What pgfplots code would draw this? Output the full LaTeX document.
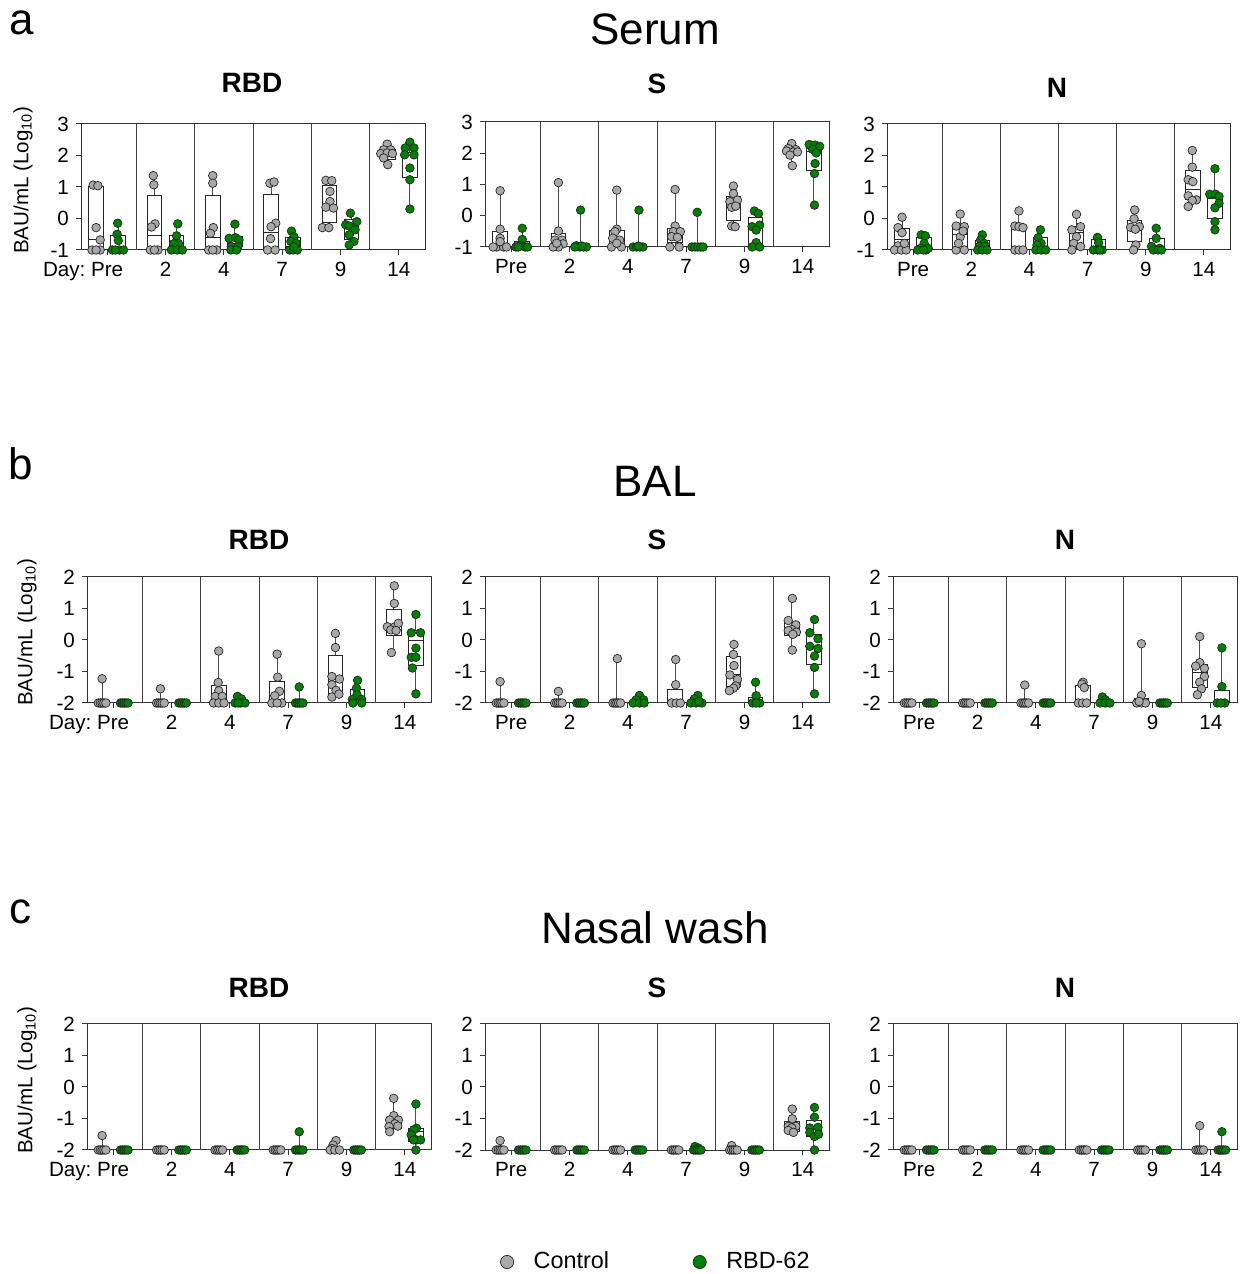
\documentclass[border=0pt]{standalone}
\usepackage{fontspec}
\setmainfont{Liberation Sans}
\usepackage{pgfplots}
\pgfplotsset{compat=1.18}
\usepgfplotslibrary{statistics}

\definecolor{ctrlgray}{RGB}{169,169,169}
\definecolor{rbdgreen}{RGB}{0,128,0}

\pgfplotsset{
  boxplot/every box/.style={draw=black!85, fill=white, line width=0.5pt},
  boxplot/every whisker/.style={draw=black!70, line width=0.5pt},
  boxplot/every median/.style={draw=black!85, line width=0.5pt},
  panel/.style={
    scale only axis, width=172pt, height=63pt, anchor=south west,
    xmin=-0.449, xmax=5.449, clip=false,
    axis line style={draw=black!80, line width=0.5pt},
    tick style={draw=black!80, line width=0.5pt},
    tick align=outside, tick pos=left, major tick length=2.5pt,
    xtick={0,1,2,3,4,5}, xticklabels={Pre,2,4,7,9,14},
    extra x ticks={0.5,1.5,2.5,3.5,4.5}, extra x tick labels={},
    extra x tick style={grid=major, major tick length=0pt,
      major grid style={draw=black!75, line width=0.5pt}},
    tick label style={font=\fontsize{10.3}{12}\selectfont},
  },
  rowA/.style={ymin=-1, ymax=3, ytick={-1,0,1,2,3}, yticklabels={-1,0,1,2,3}},
  rowB/.style={ymin=-2, ymax=2, ytick={-2,-1,0,1,2}, yticklabels={-2,-1,0,1,2}},
  ctrlmark/.style={only marks, mark=*, mark size=2.15pt,
    mark options={fill=ctrlgray, draw=black!85, line width=0.35pt},
    legend image post style={mark size=3.3pt}},
  rbdmark/.style={only marks, mark=*, mark size=2.15pt,
    mark options={fill=rbdgreen, draw=black!85, line width=0.35pt},
    legend image post style={mark size=3.3pt}},
  boxst/.style={forget plot, boxplot/draw direction=y,
    boxplot/box extend=0.25, boxplot/whisker extend=0},
}

% box: position, min, q1, median, q3, max
\newcommand{\bx}[6]{\addplot[boxst, boxplot prepared={draw position=#1,
  lower whisker=#2, lower quartile=#3, median=#4, upper quartile=#5, upper whisker=#6}] coordinates {};}

\begin{document}
\begin{tikzpicture}
\path[use as bounding box] (0,0) rectangle (619.5pt,637pt);

% ---- titles and labels
\node[font=\fontsize{22}{26}\selectfont] at (11pt,625.5pt) {a};
\node[font=\fontsize{22}{26}\selectfont] at (10.5pt,405pt) {b};
\node[font=\fontsize{22}{26}\selectfont] at (10.5pt,181pt) {c};
\node[font=\fontsize{22}{26}\selectfont] at (327.5pt,622.5pt) {Serum};
\node[font=\fontsize{22}{26}\selectfont] at (327.5pt,396.5pt) {BAL};
\node[font=\fontsize{22}{26}\selectfont] at (327.5pt,173pt) {Nasal wash};
\node[font=\bfseries\fontsize{14}{16}\selectfont] at (126pt,595.5pt) {RBD};
\node[font=\bfseries\fontsize{14}{16}\selectfont] at (328.5pt,595pt) {S};
\node[font=\bfseries\fontsize{14}{16}\selectfont] at (528.5pt,593pt) {N};
\node[font=\bfseries\fontsize{14}{16}\selectfont] at (129.5pt,367pt) {RBD};
\node[font=\bfseries\fontsize{14}{16}\selectfont] at (328.5pt,367pt) {S};
\node[font=\bfseries\fontsize{14}{16}\selectfont] at (532.5pt,367pt) {N};
\node[font=\bfseries\fontsize{14}{16}\selectfont] at (129.5pt,143pt) {RBD};
\node[font=\bfseries\fontsize{14}{16}\selectfont] at (328.5pt,143pt) {S};
\node[font=\bfseries\fontsize{14}{16}\selectfont] at (532.5pt,143pt) {N};
\node[rotate=90, font=\fontsize{10.3}{12}\selectfont] at (11.5pt,547pt) {BAU/mL (Log\textsubscript{10})};
\node[rotate=90, font=\fontsize{10.3}{12}\selectfont] at (13.5pt,321pt) {BAU/mL (Log\textsubscript{10})};
\node[rotate=90, font=\fontsize{10.3}{12}\selectfont] at (13.5pt,97pt) {BAU/mL (Log\textsubscript{10})};

% ================= Serum RBD
\begin{axis}[panel, rowA, at={(40.5pt,512pt)}, xticklabels={\llap{Day:\ }Pre,2,4,7,9,14}]
\bx{-0.19}{-1}{-1}{-0.68}{1.02}{1.06}
\bx{0.81}{-1}{-1}{-0.55}{0.74}{1.36}
\bx{1.81}{-1}{-1}{-0.61}{0.74}{1.36}
\bx{2.81}{-1}{-1}{-0.44}{0.77}{1.16}
\bx{3.81}{-0.29}{-0.12}{0.38}{1.04}{1.21}
\bx{4.81}{1.71}{1.86}{2.02}{2.18}{2.36}
\bx{0.19}{-1}{-1}{-1}{-0.55}{-0.15}
\bx{1.19}{-1}{-1}{-1}{-0.55}{-0.17}
\bx{2.19}{-1}{-0.88}{-0.70}{-0.57}{-0.18}
\bx{3.19}{-1}{-1}{-0.9}{-0.59}{-0.40}
\bx{4.19}{-0.84}{-0.68}{-0.31}{-0.02}{0.17}
\bx{5.19}{0.30}{1.31}{2.00}{2.08}{2.42}
\addplot[ctrlmark] coordinates {
 (-0.24,1.06) (-0.16,1.04) (-0.19,-0.29) (-0.12,-0.68) (-0.26,-1) (-0.12,-1) (-0.19,-1)
 (0.79,1.36) (0.80,1.07) (0.82,-0.17) (0.76,-0.27) (0.74,-1) (0.87,-1) (0.81,-1)
 (1.81,1.36) (1.81,1.12) (1.82,-0.29) (1.77,-0.47) (1.74,-1) (1.88,-1) (1.81,-1)
 (2.79,1.12) (2.86,1.16) (2.89,-0.15) (2.81,-0.26) (2.80,-0.64) (2.75,-1) (2.88,-1)
 (3.75,1.21) (3.85,1.20) (3.82,0.86) (3.82,0.54) (3.75,0.36) (3.88,0.33) (3.69,-0.29) (3.80,-0.29)
 (4.80,2.36) (4.74,2.18) (4.86,2.18) (4.69,2.06) (4.80,2.08) (4.89,2.06) (4.74,1.92) (4.81,1.71)
};
\addplot[rbdmark] coordinates {
 (0.18,-0.15) (0.17,-0.50) (0.19,-0.70) (0.09,-1) (0.21,-1) (0.28,-1) (0.14,-1)
 (1.21,-0.17) (1.19,-0.55) (1.22,-0.79) (1.14,-0.80) (1.10,-1) (1.20,-1) (1.29,-1)
 (2.19,-0.18) (2.09,-0.63) (2.20,-0.61) (2.26,-0.68) (2.13,-0.89) (2.24,-0.89) (2.12,-1) (2.22,-1)
 (3.16,-0.40) (3.20,-0.58) (3.15,-0.73) (3.24,-0.79) (3.13,-1) (3.19,-1) (3.26,-1) (3.20,-0.90)
 (4.17,0.17) (4.09,-0.20) (4.28,-0.10) (4.15,-0.24) (4.25,-0.36) (4.15,-0.52) (4.23,-0.73) (4.15,-0.84)
 (5.19,2.42) (5.11,2.24) (5.26,2.24) (5.26,2.02) (5.10,2.02) (5.19,1.60) (5.19,1.23) (5.19,0.30)
};
\end{axis}

% ================= Serum S
\begin{axis}[panel, rowA, at={(242.5pt,513.5pt)}, height=62.5pt]
\bx{-0.19}{-1}{-1}{-0.95}{-0.52}{0.80}
\bx{0.81}{-1}{-1}{-0.85}{-0.56}{1.06}
\bx{1.81}{-1}{-0.95}{-0.75}{-0.48}{0.82}
\bx{2.81}{-1}{-0.85}{-0.62}{-0.40}{0.84}
\bx{3.81}{-0.35}{-0.16}{0.39}{0.63}{0.95}
\bx{4.81}{1.60}{1.96}{2.06}{2.15}{2.31}
\bx{0.19}{-1}{-1}{-1}{-0.83}{-0.40}
\bx{1.19}{-1}{-1}{-1}{-0.97}{0.18}
\bx{2.19}{-1}{-1}{-1}{-0.97}{0.18}
\bx{3.19}{-1}{-1}{-1}{-1}{0.11}
\bx{4.19}{-1}{-0.92}{-0.40}{-0.05}{0.15}
\bx{5.19}{0.34}{1.44}{2.04}{2.15}{2.28}
\addplot[ctrlmark] coordinates {
 (-0.19,0.80) (-0.19,-0.43) (-0.19,-0.72) (-0.25,-1) (-0.13,-1) (-0.19,-0.83) (-0.31,-1) (-0.08,-1)
 (0.81,1.06) (0.81,-0.49) (0.75,-0.78) (0.87,-0.78) (0.89,-0.90) (0.81,-1) (0.72,-1) (0.78,-0.88)
 (1.81,0.82) (1.81,-0.43) (1.78,-0.51) (1.74,-0.72) (1.86,-0.78) (1.72,-1) (1.89,-1) (1.81,-0.88)
 (2.81,0.84) (2.81,-0.33) (2.78,-0.51) (2.90,-0.51) (2.75,-0.67) (2.85,-0.69) (2.72,-1) (2.88,-1)
 (3.81,0.95) (3.81,0.71) (3.75,0.45) (3.88,0.50) (3.78,0.27) (3.85,0.31) (3.78,-0.33) (3.84,-0.35)
 (4.81,2.31) (4.75,2.15) (4.88,2.12) (4.72,2.07) (4.84,2.04) (4.91,2.04) (4.78,1.94) (4.82,1.60)
};
\addplot[rbdmark] coordinates {
 (0.19,-0.40) (0.19,-0.76) (0.15,-0.96) (0.08,-1) (0.24,-1) (0.28,-1) (0.12,-1)
 (1.19,0.18) (1.12,-0.96) (1.18,-1) (1.24,-1) (1.29,-1) (1.09,-1) (1.21,-0.97)
 (2.19,0.18) (2.09,-1) (2.15,-1) (2.21,-1) (2.26,-1) (2.18,-0.97)
 (3.19,0.11) (3.10,-1) (3.15,-1) (3.20,-1) (3.25,-1) (3.29,-1)
 (4.17,0.15) (4.24,0.07) (4.13,-0.35) (4.26,-0.30) (4.20,-0.46) (4.20,-0.86) (4.13,-1) (4.26,-1)
 (5.11,2.28) (5.21,2.26) (5.29,2.22) (5.17,2.12) (5.23,2.01) (5.21,1.67) (5.20,1.35) (5.20,0.34)
};
\end{axis}

% ================= Serum N
\begin{axis}[panel, rowA, at={(443.5pt,512pt)}, width=171.5pt]
\bx{-0.19}{-1}{-1}{-0.66}{-0.31}{0.04}
\bx{0.81}{-1}{-1}{-0.50}{-0.20}{0.14}
\bx{1.81}{-1}{-1}{-0.30}{-0.26}{0.24}
\bx{2.81}{-1}{-0.85}{-0.45}{-0.24}{0.13}
\bx{3.81}{-1}{-0.74}{-0.31}{-0.07}{0.27}
\bx{4.81}{0.38}{0.59}{0.91}{1.51}{2.16}
\bx{0.19}{-1}{-1}{-0.9}{-0.60}{-0.52}
\bx{1.19}{-1}{-1}{-0.88}{-0.70}{-0.52}
\bx{2.19}{-1}{-1}{-0.92}{-0.60}{-0.36}
\bx{3.19}{-1}{-1}{-1}{-0.66}{-0.60}
\bx{4.19}{-1}{-1}{-0.97}{-0.63}{-0.31}
\bx{5.19}{-0.36}{0.01}{0.63}{0.77}{1.58}
\addplot[ctrlmark] coordinates {
 (-0.19,0.04) (-0.26,-0.29) (-0.19,-0.45) (-0.26,-0.87) (-0.32,-1) (-0.20,-1) (-0.12,-1) (-0.15,-0.79)
 (0.81,0.14) (0.74,-0.24) (0.88,-0.26) (0.81,-0.58) (0.74,-1) (0.88,-1) (0.78,-0.79) (0.86,-0.40)
 (1.82,0.24) (1.75,-0.24) (1.82,-0.26) (1.89,-0.29) (1.75,-1) (1.82,-1) (1.89,-1)
 (2.81,0.13) (2.73,-0.36) (2.88,-0.26) (2.81,-0.58) (2.76,-0.79) (2.88,-0.89) (2.73,-1)
 (3.81,0.27) (3.80,-0.01) (3.74,-0.28) (3.89,-0.26) (3.82,-0.34) (3.83,-0.84) (3.79,-1)
 (4.80,2.16) (4.80,1.63) (4.73,1.23) (4.81,1.17) (4.73,0.72) (4.87,0.59) (4.80,0.57) (4.73,0.38)
};
\addplot[rbdmark] coordinates {
 (0.14,-0.52) (0.21,-0.55) (0.19,-0.79) (0.13,-0.95) (0.08,-1) (0.22,-1) (0.26,-0.95) (0.18,-1)
 (1.19,-0.52) (1.16,-0.68) (1.22,-0.79) (1.14,-0.89) (1.23,-0.89) (1.11,-1) (1.19,-1) (1.27,-1)
 (2.19,-0.36) (2.15,-0.61) (2.20,-0.79) (2.13,-0.84) (2.11,-1) (2.20,-1) (2.28,-1)
 (3.17,-0.60) (3.19,-0.77) (3.10,-1) (3.17,-1) (3.25,-1) (3.21,-1)
 (4.18,-0.31) (4.18,-0.63) (4.10,-0.89) (4.24,-0.95) (4.13,-1) (4.21,-1) (4.27,-1)
 (5.19,1.58) (5.10,0.77) (5.20,0.77) (5.26,0.70) (5.26,0.48) (5.19,0.34) (5.19,-0.10) (5.19,-0.36)
};
\end{axis}

% ================= BAL RBD
\begin{axis}[panel, rowB, at={(43.5pt,285.5pt)}, xticklabels={\llap{Day:\ }Pre,2,4,7,9,14}]
\bx{-0.19}{-2}{-2}{-2}{-2}{-1.23}
\bx{0.81}{-2}{-2}{-2}{-2}{-1.55}
\bx{1.81}{-2}{-2}{-1.9}{-1.44}{-0.35}
\bx{2.81}{-2}{-2}{-1.9}{-1.33}{-0.45}
\bx{3.81}{-1.81}{-1.79}{-1.32}{-0.49}{0.21}
\bx{4.81}{-0.40}{0.14}{0.32}{0.98}{1.72}
\bx{2.19}{-2}{-2}{-2}{-1.95}{-1.79}
\bx{3.19}{-2}{-2}{-2}{-2}{-1.49}
\bx{4.19}{-2}{-2}{-1.9}{-1.58}{-1.28}
\bx{5.19}{-1.71}{-0.82}{-0.03}{0.29}{0.81}
\addplot[ctrlmark] coordinates {
 (-0.19,-1.23) (-0.255,-2) (-0.22,-2) (-0.19,-2) (-0.16,-2) (-0.125,-2)
 (0.81,-1.55) (0.745,-2) (0.78,-2) (0.81,-2) (0.84,-2) (0.875,-2)
 (1.81,-0.35) (1.80,-1.35) (1.81,-1.61) (1.75,-1.79) (1.87,-1.79) (1.72,-2) (1.81,-2) (1.90,-2)
 (2.81,-0.45) (2.82,-1.18) (2.85,-1.63) (2.77,-1.77) (2.72,-2) (2.89,-2) (2.81,-2)
 (3.81,0.21) (3.81,-0.24) (3.75,-1.16) (3.88,-1.24) (3.75,-1.42) (3.82,-1.60) (3.75,-1.81) (3.87,-1.72)
 (4.82,1.72) (4.82,1.16) (4.70,0.42) (4.83,0.42) (4.89,0.53) (4.76,0.32) (4.85,0.30) (4.77,-0.40)
};
\addplot[rbdmark] coordinates {
 (0.125,-2) (0.16,-2) (0.19,-2) (0.22,-2) (0.255,-2)
 (1.125,-2) (1.16,-2) (1.19,-2) (1.22,-2) (1.255,-2)
 (2.13,-1.79) (2.20,-1.87) (2.09,-2) (2.18,-2) (2.26,-2) (2.14,-2)
 (3.19,-1.49) (3.125,-2) (3.16,-2) (3.19,-2) (3.22,-2) (3.255,-2)
 (4.19,-1.28) (4.17,-1.53) (4.18,-1.74) (4.10,-1.89) (4.26,-1.89) (4.11,-2) (4.26,-2)
 (5.19,0.81) (5.11,0.23) (5.27,0.23) (5.19,-0.26) (5.11,-0.55) (5.19,-0.55) (5.13,-0.89) (5.19,-1.71)
};
\end{axis}

% ================= BAL S
\begin{axis}[panel, rowB, at={(242.5pt,285.5pt)}]
\bx{-0.19}{-2}{-2}{-2}{-2}{-1.32}
\bx{0.81}{-2}{-2}{-2}{-2}{-1.63}
\bx{1.81}{-2}{-2}{-2}{-2}{-0.59}
\bx{2.81}{-2}{-2}{-2}{-1.58}{-0.62}
\bx{3.81}{-1.61}{-1.48}{-1.11}{-0.53}{-0.14}
\bx{4.81}{-0.32}{0.15}{0.39}{0.57}{1.32}
\bx{2.19}{-2}{-2}{-2}{-1.95}{-1.76}
\bx{3.19}{-2}{-2}{-2}{-1.95}{-1.76}
\bx{4.19}{-2}{-2}{-2}{-1.81}{-1.34}
\bx{5.19}{-1.71}{-0.77}{-0.24}{0.18}{0.65}
\addplot[ctrlmark] coordinates {
 (-0.19,-1.32) (-0.255,-2) (-0.22,-2) (-0.19,-2) (-0.16,-2) (-0.125,-2)
 (0.81,-1.63) (0.745,-2) (0.78,-2) (0.81,-2) (0.84,-2) (0.875,-2)
 (1.82,-0.59) (1.745,-2) (1.78,-2) (1.81,-2) (1.84,-2) (1.875,-2)
 (2.82,-0.62) (2.82,-1.42) (2.75,-2) (2.83,-2) (2.90,-2)
 (3.82,-0.14) (3.81,-0.46) (3.82,-0.81) (3.75,-1.11) (3.88,-1.25) (3.85,-1.46) (3.81,-1.53) (3.74,-1.61)
 (4.82,1.32) (4.75,0.62) (4.88,0.48) (4.81,0.33) (4.75,0.30) (4.89,0.25) (4.83,0.18) (4.82,-0.32)
};
\addplot[rbdmark] coordinates {
 (0.125,-2) (0.16,-2) (0.19,-2) (0.22,-2) (0.255,-2)
 (1.125,-2) (1.16,-2) (1.19,-2) (1.22,-2) (1.255,-2)
 (2.20,-1.76) (2.14,-1.90) (2.27,-1.90) (2.09,-2) (2.20,-2) (2.28,-2)
 (3.20,-1.76) (3.14,-1.87) (3.08,-2) (3.17,-2) (3.27,-2) (3.22,-1.95)
 (4.19,-1.34) (4.20,-1.77) (4.14,-2) (4.26,-2) (4.20,-2)
 (5.20,0.65) (5.12,0.23) (5.26,0.04) (5.12,-0.20) (5.26,-0.27) (5.20,-0.51) (5.20,-0.87) (5.20,-1.71)
};
\end{axis}

% ================= BAL N
\begin{axis}[panel, rowB, at={(446.5pt,285.5pt)}]
\bx{1.81}{-2}{-2}{-2}{-2}{-1.43}
\bx{2.81}{-2}{-2}{-2}{-1.45}{-1.34}
\bx{3.81}{-2}{-2}{-2}{-1.87}{-0.12}
\bx{4.81}{-1.74}{-1.50}{-1.04}{-0.77}{0.11}
\bx{3.19}{-2}{-2}{-2}{-1.95}{-1.81}
\bx{5.19}{-2}{-2}{-2}{-1.61}{-0.25}
\addplot[ctrlmark] coordinates {
 (-0.255,-2) (-0.22,-2) (-0.19,-2) (-0.16,-2) (-0.125,-2)
 (0.745,-2) (0.78,-2) (0.81,-2) (0.84,-2) (0.875,-2)
 (1.81,-1.43) (1.745,-2) (1.78,-2) (1.81,-2) (1.84,-2) (1.875,-2)
 (2.81,-1.34) (2.79,-1.40) (2.83,-1.51) (2.73,-2) (2.80,-2) (2.87,-2)
 (3.81,-0.12) (3.81,-1.76) (3.73,-2) (3.81,-2) (3.88,-2) (3.77,-1.95)
 (4.81,0.11) (4.81,-0.72) (4.74,-0.83) (4.89,-0.90) (4.89,-1.16) (4.81,-1.34) (4.84,-1.55) (4.77,-1.74)
};
\addplot[rbdmark] coordinates {
 (0.125,-2) (0.16,-2) (0.19,-2) (0.22,-2) (0.255,-2)
 (1.125,-2) (1.16,-2) (1.19,-2) (1.22,-2) (1.255,-2)
 (2.125,-2) (2.16,-2) (2.19,-2) (2.22,-2) (2.255,-2)
 (3.14,-1.81) (3.19,-1.90) (3.10,-2) (3.19,-2) (3.27,-2)
 (4.125,-2) (4.16,-2) (4.19,-2) (4.22,-2) (4.255,-2)
 (5.19,-0.25) (5.19,-1.48) (5.11,-2) (5.24,-2) (5.17,-2)
};
\end{axis}

% ================= Nasal wash RBD
\begin{axis}[panel, rowB, at={(43.5pt,62pt)}, xticklabels={\llap{Day:\ }Pre,2,4,7,9,14}]
\bx{-0.19}{-2}{-2}{-2}{-2}{-1.54}
\bx{3.81}{-2}{-2}{-2}{-1.95}{-1.70}
\bx{4.81}{-1.42}{-1.31}{-1.13}{-0.96}{-0.36}
\bx{3.19}{-2}{-2}{-2}{-2}{-1.42}
\bx{5.19}{-2}{-1.73}{-1.42}{-1.31}{-0.54}
\addplot[ctrlmark] coordinates {
 (-0.19,-1.54) (-0.255,-2) (-0.22,-2) (-0.19,-2) (-0.16,-2) (-0.125,-2)
 (0.745,-2) (0.78,-2) (0.81,-2) (0.84,-2) (0.875,-2)
 (1.745,-2) (1.78,-2) (1.81,-2) (1.84,-2) (1.875,-2)
 (2.745,-2) (2.78,-2) (2.81,-2) (2.84,-2) (2.875,-2)
 (3.82,-1.70) (3.77,-1.84) (3.75,-1.95) (3.72,-2) (3.80,-2) (3.88,-2)
 (4.81,-0.36) (4.81,-0.91) (4.74,-1.05) (4.89,-1.05) (4.83,-1.17) (4.73,-1.26) (4.88,-1.24) (4.74,-1.42)
};
\addplot[rbdmark] coordinates {
 (0.125,-2) (0.16,-2) (0.19,-2) (0.22,-2) (0.255,-2)
 (1.125,-2) (1.16,-2) (1.19,-2) (1.22,-2) (1.255,-2)
 (2.125,-2) (2.16,-2) (2.19,-2) (2.22,-2) (2.255,-2)
 (3.19,-1.42) (3.125,-2) (3.16,-2) (3.19,-2) (3.22,-2) (3.255,-2)
 (4.125,-2) (4.16,-2) (4.19,-2) (4.22,-2) (4.255,-2)
 (5.19,-0.54) (5.20,-1.31) (5.15,-1.36) (5.11,-1.52) (5.20,-1.68) (5.27,-1.68) (5.15,-1.68) (5.19,-2)
};
\end{axis}

% ================= Nasal wash S (holds the legend)
\begin{axis}[panel, rowB, at={(242.5pt,62pt)},
  legend columns=2,
  legend style={draw=none, fill=none, at={(0.5,-0.889)}, anchor=center,
    font=\fontsize{11.7}{14}\selectfont,
    /tikz/column 1/.style={column sep=8pt},
    /tikz/column 2/.style={column sep=40pt},
    /tikz/column 3/.style={column sep=8pt}}]
\bx{-0.19}{-2}{-2}{-2}{-2}{-1.70}
\bx{3.81}{-2}{-2}{-2}{-2}{-1.86}
\bx{4.81}{-1.44}{-1.41}{-1.25}{-1.11}{-0.70}
\bx{3.19}{-2}{-2}{-2}{-2}{-1.89}
\bx{5.19}{-2}{-1.57}{-1.25}{-1.07}{-0.65}
\addplot[ctrlmark] coordinates {
 (-0.19,-1.70) (-0.255,-2) (-0.22,-2) (-0.19,-2) (-0.16,-2) (-0.125,-2)
 (0.745,-2) (0.78,-2) (0.81,-2) (0.84,-2) (0.875,-2)
 (1.745,-2) (1.78,-2) (1.81,-2) (1.84,-2) (1.875,-2)
 (2.745,-2) (2.78,-2) (2.81,-2) (2.84,-2) (2.875,-2)
 (3.78,-1.86) (3.745,-2) (3.78,-2) (3.81,-2) (3.84,-2) (3.875,-2)
 (4.82,-0.70) (4.82,-1.01) (4.75,-1.25) (4.88,-1.25) (4.81,-1.30) (4.75,-1.38) (4.84,-1.44)
};
\addlegendentry{Control}
\addplot[rbdmark] coordinates {
 (0.125,-2) (0.16,-2) (0.19,-2) (0.22,-2) (0.255,-2)
 (1.125,-2) (1.16,-2) (1.19,-2) (1.22,-2) (1.255,-2)
 (2.125,-2) (2.16,-2) (2.19,-2) (2.22,-2) (2.255,-2)
 (3.15,-1.89) (3.21,-1.94) (3.125,-2) (3.16,-2) (3.19,-2) (3.22,-2) (3.255,-2)
 (4.125,-2) (4.16,-2) (4.19,-2) (4.22,-2) (4.255,-2)
 (5.20,-0.65) (5.20,-0.96) (5.12,-1.30) (5.26,-1.28) (5.12,-1.44) (5.20,-1.57) (5.27,-1.50) (5.20,-2)
};
\addlegendentry{RBD-62}
\end{axis}

% ================= Nasal wash N
\begin{axis}[panel, rowB, at={(446.5pt,62pt)}]
\bx{4.81}{-2}{-2}{-2}{-2}{-1.23}
\bx{5.19}{-2}{-2}{-2}{-2}{-1.42}
\addplot[ctrlmark] coordinates {
 (-0.255,-2) (-0.22,-2) (-0.19,-2) (-0.16,-2) (-0.125,-2)
 (0.745,-2) (0.78,-2) (0.81,-2) (0.84,-2) (0.875,-2)
 (1.745,-2) (1.78,-2) (1.81,-2) (1.84,-2) (1.875,-2)
 (2.745,-2) (2.78,-2) (2.81,-2) (2.84,-2) (2.875,-2)
 (3.745,-2) (3.78,-2) (3.81,-2) (3.84,-2) (3.875,-2)
 (4.81,-1.23) (4.745,-2) (4.78,-2) (4.81,-2) (4.84,-2) (4.875,-2)
};
\addplot[rbdmark] coordinates {
 (0.125,-2) (0.16,-2) (0.19,-2) (0.22,-2) (0.255,-2)
 (1.125,-2) (1.16,-2) (1.19,-2) (1.22,-2) (1.255,-2)
 (2.125,-2) (2.16,-2) (2.19,-2) (2.22,-2) (2.255,-2)
 (3.125,-2) (3.16,-2) (3.19,-2) (3.22,-2) (3.255,-2)
 (4.125,-2) (4.16,-2) (4.19,-2) (4.22,-2) (4.255,-2)
 (5.19,-1.42) (5.125,-2) (5.16,-2) (5.19,-2) (5.22,-2) (5.255,-2)
};
\end{axis}
\end{tikzpicture}
\end{document}
